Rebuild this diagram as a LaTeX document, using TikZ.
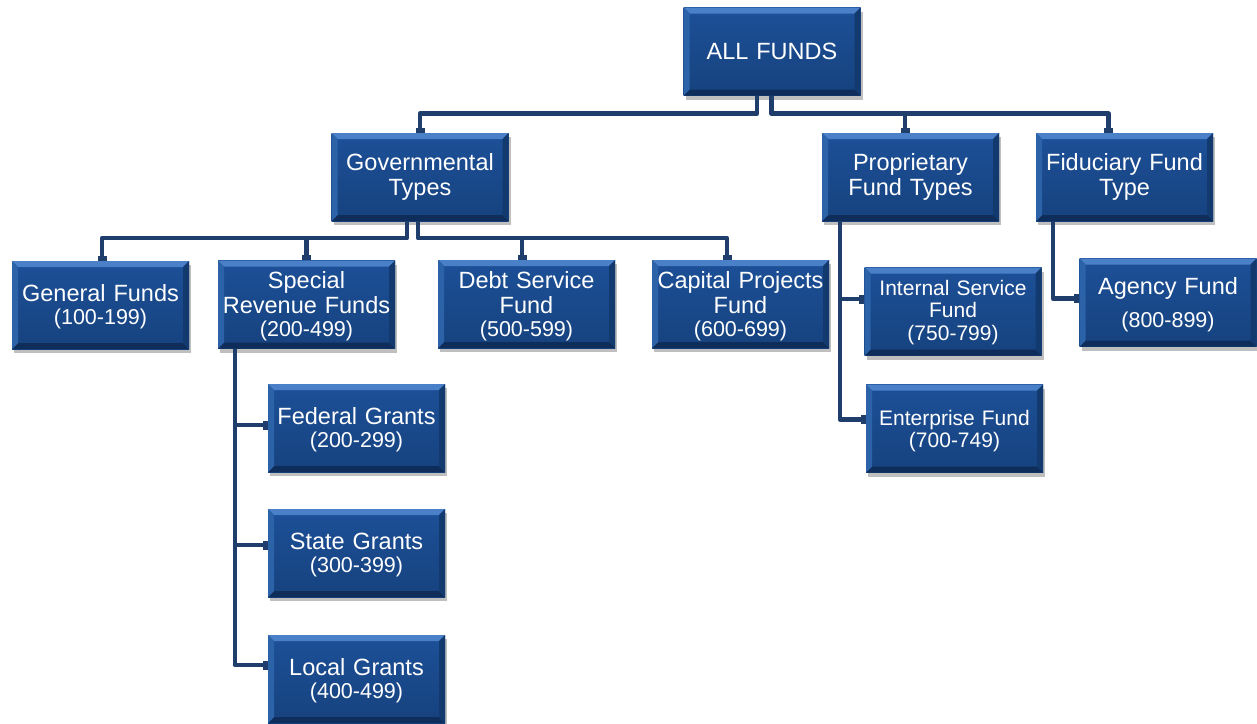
\documentclass[tikz,border=0pt]{standalone}
\usepackage{fontspec}
\setmainfont{Liberation Sans}
\usetikzlibrary{arrows.meta,shadows,calc}
\definecolor{facetop}{HTML}{1D5098}
\definecolor{facebot}{HTML}{16427E}
\definecolor{bevtop}{HTML}{4A80C8}
\definecolor{bevleft}{HTML}{2B62A8}
\definecolor{bevright}{HTML}{123A6E}
\definecolor{bevbot}{HTML}{0E2D5A}
\definecolor{linec}{HTML}{1F3E6C}
\tikzset{
  fundbox/.style={
    minimum width=177pt, minimum height=88pt, inner sep=0pt,
    text width=172pt, align=center, text=white,
    font=\fontsize{23.5}{25}\selectfont,
    top color=facetop, bottom color=facebot,
    drop shadow={shadow xshift=2pt, shadow yshift=-4pt, fill=black, opacity=0.25},
    path picture={
      \coordinate (bsw) at (path picture bounding box.south west);
      \coordinate (bne) at (path picture bounding box.north east);
      \coordinate (bnw) at (path picture bounding box.north west);
      \coordinate (bse) at (path picture bounding box.south east);
      \fill[bevtop] (bnw) -- (bne) -- ($(bne)+(-6pt,-6pt)$) -- ($(bnw)+(6pt,-6pt)$) -- cycle;
      \fill[bevbot] (bsw) -- (bse) -- ($(bse)+(-6pt,6pt)$) -- ($(bsw)+(6pt,6pt)$) -- cycle;
      \fill[bevleft] (bsw) -- (bnw) -- ($(bnw)+(6pt,-6pt)$) -- ($(bsw)+(6pt,6pt)$) -- cycle;
      \fill[bevright] (bse) -- (bne) -- ($(bne)+(-6pt,-6pt)$) -- ($(bse)+(-6pt,6pt)$) -- cycle;
    }},
  smallfont/.style={font=\fontsize{21}{22.5}\selectfont},
  lowered/.style={execute at begin node={\rule{0pt}{#1}}},
  conn/.style={draw=linec, line width=4.5pt, line join=round, -{Rectangle[length=5pt,width=9pt]}},
}
\newcommand{\nm}[1]{{\fontsize{21.5}{23}\selectfont #1}}
\begin{document}
\begin{tikzpicture}[x=1pt,y=-1pt]
\useasboundingbox (0,0) rectangle (1257,723);
% boxes
\node[fundbox] (all)   at (772,51.5)    {ALL FUNDS};
\node[fundbox] (gov)   at (420,177)     {Governmental\\Types};
\node[fundbox] (prop)  at (910.5,177)   {Proprietary\\Fund Types};
\node[fundbox] (fid)   at (1124.5,177)  {Fiduciary Fund\\Type};
\node[fundbox,lowered=21pt] (gen)   at (100.5,305)   {General Funds\\[-2pt]\nm{(100-199)}};
\node[fundbox,lowered=21pt] (spec)  at (306.5,304.5) {Special\\Revenue Funds\\[-2pt]\nm{(200-499)}};
\node[fundbox,lowered=21pt] (debt)  at (526.5,304)   {Debt Service\\Fund\\[-2pt]\nm{(500-599)}};
\node[fundbox,lowered=21pt] (cap)   at (740.5,304)   {Capital Projects\\Fund\\[-2pt]\nm{(600-699)}};
\node[fundbox,smallfont,lowered=17pt] (int)   at (953,311.5)   {Internal Service\\Fund\\(750-799)};
\node[fundbox,lowered=21pt] (agen)  at (1168,302.5)  {Agency Fund\\[8pt]\nm{(800-899)}};
\node[fundbox,smallfont,lowered=20pt] (ent)   at (954.5,428.5) {Enterprise Fund\\(700-749)};
\node[fundbox,lowered=21pt] (fed)   at (356.5,428)   {Federal Grants\\[-2pt]\nm{(200-299)}};
\node[fundbox,lowered=21pt] (state) at (356.5,553)   {State Grants\\[-2pt]\nm{(300-399)}};
\node[fundbox,lowered=21pt] (local) at (356.5,679)   {Local Grants\\[-2pt]\nm{(400-499)}};
% connectors
\draw[conn] ([xshift=-15pt]all.south) -- ++(0,18) -| (gov.north);
\draw[conn] ([xshift=-0.5pt]all.south) -- ++(0,18) -| ([xshift=-16pt]fid.north);
\draw[conn] ([xshift=-0.5pt]all.south) ++(0,18) -| ([xshift=-5.5pt]prop.north);
\draw[conn] ([xshift=-13pt]gov.south) -- ++(0,17) -| ([xshift=1.5pt]gen.north);
\draw[conn] ([xshift=-13pt]gov.south) ++(0,17) -| (spec.north);
\draw[conn] ([xshift=-2pt]gov.south) -- ++(0,17) -| ([xshift=-13.5pt]cap.north);
\draw[conn] ([xshift=-2pt]gov.south) ++(0,17) -| ([xshift=-4.5pt]debt.north);
\draw[conn] ([xshift=17pt]spec.south west) |- ([yshift=14pt]local.west);
\draw[conn] ([xshift=17pt]spec.south west) |- ([yshift=3pt]fed.west);
\draw[conn] ([xshift=17pt]spec.south west) |- ([yshift=8pt]state.west);
\draw[conn] ([xshift=18pt]prop.south west) |- ([yshift=9pt]ent.west);
\draw[conn] ([xshift=18pt]prop.south west) |- ([yshift=12.5pt]int.west);
\draw[conn] ([xshift=17pt]fid.south west) |- ([yshift=4pt]agen.west);
\end{tikzpicture}
\end{document}
